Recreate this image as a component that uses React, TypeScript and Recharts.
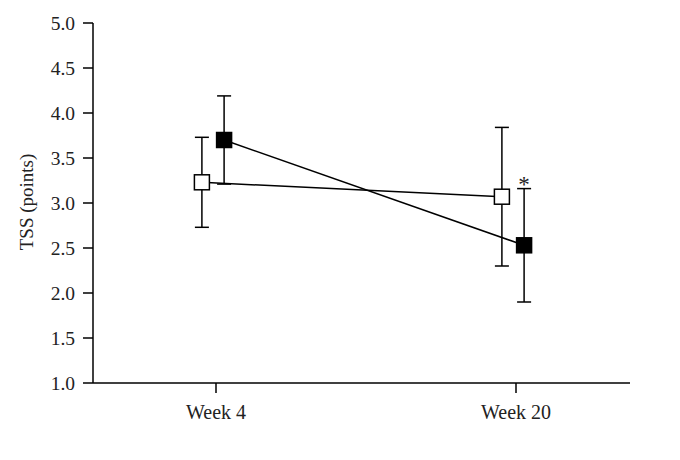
import React from 'react';
import {
  ScatterChart,
  Scatter,
  XAxis,
  YAxis,
  ErrorBar,
  ReferenceDot,
} from 'recharts';

// categories (x position = index)
const weeks = ['Week 4', 'Week 20'];
// open squares
const openMeans = [3.23, 3.07];
const openErr = [0.5, 0.77];
// filled squares
const filledMeans = [3.7, 2.53];
const filledErr = [0.49, 0.63];
// significance marks for the filled series
const filledSig = ['', '*'];

const yTicks = [1.0, 1.5, 2.0, 2.5, 3.0, 3.5, 4.0, 4.5, 5.0];

// horizontal dodge of the two series around each week
const OPEN_DODGE = -0.047;
const FILLED_DODGE = 0.027;

const openData = weeks.map((w, i) => ({ x: i + OPEN_DODGE, y: openMeans[i], err: openErr[i] }));
const filledData = weeks.map((w, i) => ({ x: i + FILLED_DODGE, y: filledMeans[i], err: filledErr[i] }));

const FONT = '"Liberation Serif", "DejaVu Serif", serif';
const xTickStyle = { fontFamily: FONT, fontSize: 20, fill: '#222' };
const yTickStyle = { fontFamily: FONT, fontSize: 19.5, fill: '#222' };

const square = (fill: string) => (props: any) => {
  const { cx, cy } = props;
  return (
    <rect x={cx - 7.5} y={cy - 7.5} width={15} height={15} fill={fill} stroke="#000" strokeWidth={1.5} />
  );
};

const YLabel = (props: any) => {
  const { viewBox } = props;
  const x = viewBox.x + 18;
  const y = viewBox.y + viewBox.height / 2 - 1;
  return (
    <text
      x={x}
      y={y}
      transform={`rotate(-90 ${x} ${y})`}
      textAnchor="middle"
      dominantBaseline="central"
      style={{ fontFamily: FONT, fontSize: 19, fill: '#222' }}
    >
      TSS (points)
    </text>
  );
};

// asterisk drawn just above the error bar cap
const SigMark = (props: any) => {
  const { viewBox, value } = props;
  const x = viewBox.x + (viewBox.width || 0) / 2;
  const y = viewBox.y;
  return (
    <text x={x} y={y + 3} textAnchor="middle" fill="#222" style={{ fontFamily: FONT, fontSize: 23 }}>
      {value}
    </text>
  );
};

export default function App() {
  return (
    <div style={{ width: 680, height: 460, background: '#fff' }}>
      <ScatterChart width={680} height={460} margin={{ top: 15, right: 58, bottom: 45, left: 0 }}>
        <XAxis
          type="number"
          dataKey="x"
          domain={[-0.41, 1.38]}
          allowDataOverflow
          ticks={[0, 1]}
          tickFormatter={(v: number) => weeks[Math.round(v)]}
          height={40}
          tickSize={10}
          tickMargin={12}
          axisLine={{ stroke: '#000', strokeWidth: 1.5 }}
          tickLine={{ stroke: '#000', strokeWidth: 1.5 }}
          tick={xTickStyle}
        />
        <YAxis
          type="number"
          dataKey="y"
          domain={[1, 5]}
          ticks={yTicks}
          interval={0}
          tickFormatter={(v: number) => v.toFixed(1)}
          width={85}
          tickSize={10}
          tickMargin={8}
          axisLine={{ stroke: '#000', strokeWidth: 1.5 }}
          tickLine={{ stroke: '#000', strokeWidth: 1.5 }}
          tick={yTickStyle}
          label={<YLabel />}
        />
        <Scatter
          data={openData}
          shape={square('#fff')}
          line={{ stroke: '#000', strokeWidth: 1.5 }}
          lineType="joint"
          isAnimationActive={false}
        >
          <ErrorBar dataKey="err" direction="y" width={7} stroke="#000" strokeWidth={1.5} />
        </Scatter>
        <Scatter
          data={filledData}
          shape={square('#000')}
          line={{ stroke: '#000', strokeWidth: 1.5 }}
          lineType="joint"
          isAnimationActive={false}
        >
          <ErrorBar dataKey="err" direction="y" width={7} stroke="#000" strokeWidth={1.5} />
        </Scatter>
        {filledData.map((d, i) =>
          filledSig[i] ? (
            <ReferenceDot
              key={i}
              x={d.x}
              y={d.y + d.err}
              r={0}
              fill="none"
              stroke="none"
              label={<SigMark value={filledSig[i]} />}
            />
          ) : null
        )}
      </ScatterChart>
    </div>
  );
}
